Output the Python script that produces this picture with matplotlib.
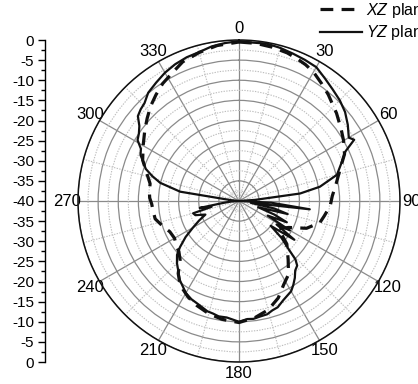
import numpy as np
import matplotlib
matplotlib.use("Agg")
import matplotlib.pyplot as plt

plt.rcParams['font.family'] = ['Liberation Sans', 'DejaVu Sans']
plt.rcParams['mathtext.fontset'] = 'custom'
plt.rcParams['mathtext.rm'] = 'Liberation Sans'
plt.rcParams['mathtext.it'] = 'Liberation Sans:italic'

# ---------------- data (angle in degrees, normalized level in dB) ----------------
yz_angles = [0, 5, 10, 15, 20, 25, 30, 35, 40, 45, 50, 55, 60, 62, 65, 70, 75, 80, 83, 86,
             90, 93, 96.7, 99, 102, 105, 108, 111, 114, 117, 120, 122, 125, 128, 131, 134,
             136, 138, 141, 144, 147, 150, 153, 156, 160, 163, 166, 170, 173, 176, 180,
             183, 186, 190, 193, 196, 200, 203, 206, 210, 213, 217, 221, 225, 229, 232,
             236, 240, 244, 248, 252, 255, 258, 260, 263, 266, 270, 273, 276, 279, 283,
             286, 289, 292, 295, 298, 301, 304, 307, 310, 313, 316, 320, 325, 330, 335,
             340, 345, 350, 355, 360]
yz_db = [-0.3, -0.5, -0.3, -0.6, -1.0, -1.3, -1.6, -2.8, -3.8, -4.6, -5.6, -7.0, -8.5, -7.6,
         -10.8, -13.0, -14.8, -19.6, -24.7, -36.0,
         -40.0, -32.0, -22.3, -37.0, -31.0, -27.5, -35.0, -30.6, -27.0, -32.0, -25.4, -29.0,
         -23.2, -30.0, -26.0, -23.0, -19.8, -18.4, -17.8, -16.4, -15.2, -14.1, -13.6, -13.0,
         -11.9, -11.6, -11.0, -10.8, -10.5, -10.6, -10.0,
         -10.5, -10.9, -10.9, -11.3, -11.5, -12.2, -12.6, -12.9, -13.6, -14.5, -15.5,
         -17.0, -18.2, -19.6, -21.4, -24.0, -26.8, -29.0, -31.0, -28.6, -28.2, -33.0,
         -30.1, -36.0, -38.0, -40.0, -40.0, -38.0, -25.2, -19.9, -17.6, -15.5, -14.4,
         -13.0, -12.4, -10.6, -10.0, -9.0, -7.2, -6.6, -6.2, -4.9, -4.1, -3.2, -2.5,
         -2.0, -1.7, -1.0, -0.6, -0.3]

xz_angles = [0, 6, 12, 18, 22, 26, 30, 35, 40, 48, 55, 60, 66, 73, 80, 87, 93, 100, 105,
             112, 118, 125, 132, 140, 146, 152, 158, 165, 172, 180, 188, 195, 202, 208,
             215, 220, 225, 230, 234, 240, 246, 252, 258, 264, 268, 272, 276, 281, 287,
             293, 300, 307, 312, 317, 322, 327, 333, 338, 345, 352, 360]
xz_db = [-0.5, -0.6, -0.9, -1.3, -1.8, -2.3, -3.0, -4.3, -5.5, -7.4, -9.0, -10.0, -11.3,
         -13.8, -15.5, -16.8, -17.3, -18.5, -19.2, -21.9, -26.0, -28.0, -24.0, -21.0,
         -18.0, -16.4, -14.0, -12.0, -10.8, -9.8, -10.3, -11.0, -12.0, -13.0, -14.5,
         -16.5, -19.3, -20.5, -20.8, -21.5, -21.2, -20.0, -18.7, -18.5, -18.3, -17.8,
         -17.6, -17.5, -16.0, -14.0, -12.5, -10.7, -9.3, -7.8, -6.5, -5.2, -4.0, -2.7,
         -1.8, -1.0, -0.5]

series_labels = [r"$\it{XZ}$ plane", r"$\it{YZ}$ plane"]
theta_tick_labels = ["0", "30", "60", "90", "120", "150", "180", "210", "240", "270", "300", "330"]
scale_tick_labels = ["0", "-5", "-10", "-15", "-20", "-25", "-30", "-35", "-40",
                     "-35", "-30", "-25", "-20", "-15", "-10", "-5", "0"]
r_min, r_max = -40, 0

# ---------------- figure ----------------
W, H = 418, 384
fig = plt.figure(figsize=(W / 100, H / 100), dpi=100)

cx, cy, R = 239, 201, 161
ax = fig.add_axes([(cx - R) / W, (H - cy - R) / H, 2 * R / W, 2 * R / H], projection='polar')
ax.set_theta_zero_location('N')
ax.set_theta_direction(-1)
ax.set_ylim(r_min, r_max)

major_grid = '#8a8a8a'
minor_grid = '#bdbdbd'

ax.set_xticks(np.deg2rad(np.arange(0, 360, 30)))
ax.set_xticklabels(theta_tick_labels, fontsize=12)
ax.set_xticks(np.deg2rad(np.arange(15, 360, 30)), minor=True)
ax.set_yticks(np.arange(-40, 1, 5))
ax.set_yticks(np.arange(-37.5, 0, 5), minor=True)
ax.set_yticklabels([])
ax.tick_params(axis='y', which='both', length=0)
ax.tick_params(axis='x', which='major', direction='out', length=5, width=1.0, color='#222222', pad=-4)
ax.tick_params(axis='x', which='minor', direction='in', length=5, width=1.0, color='#222222')
ax.xaxis.grid(True, which='major', color=major_grid, linestyle='-', linewidth=0.9)
ax.xaxis.grid(True, which='minor', color=minor_grid, linestyle=(0, (1.2, 1.2)), linewidth=0.8)
ax.yaxis.grid(True, which='major', color=major_grid, linestyle='-', linewidth=0.9)
ax.yaxis.grid(True, which='minor', color=minor_grid, linestyle=(0, (1.2, 1.2)), linewidth=0.8)
ax.spines['polar'].set_color('#111111')
ax.spines['polar'].set_linewidth(1.1)

ax.plot(np.deg2rad(xz_angles), xz_db, color='#111111', linewidth=2.3,
        linestyle=(0, (4.0, 2.6)), label=series_labels[0], zorder=3)
ax.plot(np.deg2rad(yz_angles), yz_db, color='#111111', linewidth=1.6,
        linestyle='-', label=series_labels[1], zorder=3)

# ---------------- left dB scale ----------------
sx = 45
sax = fig.add_axes([sx / W, (H - cy - R) / H, 0.001, 2 * R / H])
sax.set_ylim(0, 80)
sax.invert_yaxis()
sax.set_yticks(np.arange(0, 81, 5))
sax.set_yticklabels(scale_tick_labels, fontsize=11)
sax.set_yticks(np.arange(2.5, 80, 5), minor=True)
sax.tick_params(axis='y', which='major', direction='out', length=5, width=1.0, pad=3)
sax.tick_params(axis='y', which='minor', direction='out', length=3, width=1.0)
sax.set_xticks([])
for s in ['top', 'right', 'bottom']:
    sax.spines[s].set_visible(False)
sax.spines['left'].set_linewidth(1.0)
sax.patch.set_visible(False)

# ---------------- legend ----------------
handles, labels = ax.get_legend_handles_labels()
fig.legend(handles, labels, loc='upper left', bbox_to_anchor=(320 / W, 1 - 1 / H),
           frameon=False, fontsize=11.5, handlelength=2.6, handletextpad=0.3,
           labelspacing=0.2, borderpad=0, borderaxespad=0)

fig.savefig('out.png', dpi=100)
